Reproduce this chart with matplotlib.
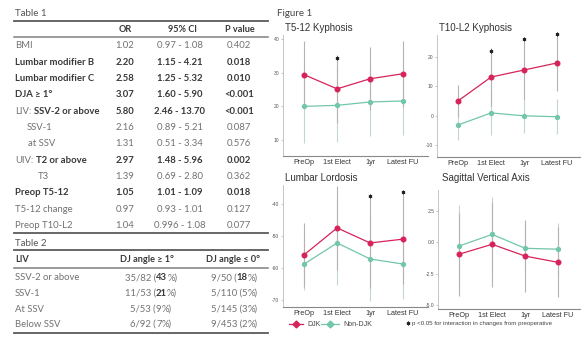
#Recreating Table 1, Table 2 and Figure 1 (DJK vs Non-DJK).
import numpy as np
import matplotlib
matplotlib.use("Agg")
import matplotlib.pyplot as plt
from matplotlib.lines import Line2D

W, H = 587, 337
TFONT = ["Lato", "DejaVu Sans"]
CFONT = ["Liberation Sans", "DejaVu Sans"]

#Table 1 data.
t1_prefix = ["", "", "", "", "LIV:", "", "", "UIV:", "", "", "", ""]
t1_names = ["BMI", "Lumbar modifier B", "Lumbar modifier C", "DJA \u2265 1\u00b0", "SSV-2 or above",
            "SSV-1", "at SSV", "T2 or above", "T3", "Preop T5-12", "T5-12 change", "Preop T10-L2"]
t1_or = ["1.02", "2.20", "2.58", "3.07", "5.80", "2.16", "1.31", "2.97", "1.39", "1.05", "0.97", "1.04"]
t1_ci = ["0.97 - 1.08", "1.15 - 4.21", "1.25 - 5.32", "1.60 - 5.90", "2.46 - 13.70", "0.89 - 5.21",
         "0.51 - 3.34", "1.48 - 5.96", "0.69 - 2.80", "1.01 - 1.09", "0.93 - 1.01", "0.996 - 1.08"]
t1_p = ["0.402", "0.018", "0.010", "<0.001", "<0.001", "0.087", "0.576", "0.002", "0.362",
        "0.018", "0.127", "0.077"]
t1_bold = [False, True, True, True, True, False, False, True, False, True, False, False]
t1_indent = [0, 0, 0, 0, 0, 12, 13, 0, 23, 0, 0, 0]

#Table 2 data.
t2_rows = ["SSV-2 or above", "SSV-1", "At SSV", "Below SSV"]
t2_pos_n = ["35/82", "11/53", "5/53", "6/92"]
t2_pos_pct = [43, 21, 9, 7]
t2_pos_bold = [True, True, False, False]
t2_neg_n = ["9/50", "5/110", "5/145", "9/453"]
t2_neg_pct = [18, 5, 3, 2]
t2_neg_bold = [True, False, False, False]

#Figure 1 data.
timepoints = ["PreOp", "1st Elect", "1yr", "Latest FU"]
t512_djk = [29.4, 25.2, 28.2, 29.7]
t512_djk_sd = [10, 10, 9.3, 9.8]
t512_non = [20.0, 20.3, 21.3, 21.6]
t512_non_sd = [11, 11, 10, 10]
t512_sig = [np.nan, 34.5, np.nan, np.nan]

t10l2_djk = [5.1, 13.2, 15.6, 18.0]
t10l2_djk_sd = [5.5, 10, 10, 9.5]
t10l2_non = [-3.1, 1.0, 0.0, -0.3]
t10l2_non_sd = [5, 7.5, 6, 6]
t10l2_sig = [np.nan, 22.0, 26.0, 28.0]

ll_djk = [-55.9, -47.5, -52.2, -51.0]
ll_djk_sd = [10, 13, 14, 14]
ll_non = [-58.8, -52.2, -57.2, -58.8]
ll_non_sd = [8, 13, 13, 11]
ll_sig = [np.nan, np.nan, -37.5, -36.3]

sva_djk = [-0.95, -0.16, -1.1, -1.6]
sva_djk_sd = [3.3, 3.4, 2.9, 2.8]
sva_non = [-0.3, 0.63, -0.48, -0.55]
sva_non_sd = [3.3, 3.0, 1.8, 2.1]
sva_sig = [np.nan, np.nan, np.nan, np.nan]

RED = "#d6245a"
GREEN = "#72c6ab"

fig = plt.figure(figsize=(W / 100, H / 100), dpi=100)
renderer = fig.canvas.get_renderer()

#Pixel coords to figure fraction.
def px(x, y):
    return x / W, 1 - y / H

#Function for writing text made of normal and bold parts.
def seg_text(x, y, parts, ha="left", size=7, gap=0):
    arts, widths = [], []
    for s, b in parts:
        t = fig.text(0, 0, s, fontsize=size, family=TFONT, va="center", ha="left",
                     fontweight="bold" if b else "normal", color="#383838" if b else "#727272")
        arts.append(t)
        widths.append(t.get_window_extent(renderer).width)
    total = sum(widths) + gap * (len(parts) - 1)
    x0 = x - total / 2 if ha == "center" else x
    for t, w in zip(arts, widths):
        t.set_position(px(x0, y))
        x0 += w + gap

def hline(y, x0=14, x1=268, lw=1.3, color="#5a5a5a"):
    fig.add_artist(Line2D([x0 / W, x1 / W], [1 - y / H, 1 - y / H], lw=lw, color=color))

#Table 1.
fig.text(*px(15, 13), "Table 1", fontsize=7, family=TFONT, color="#555555", va="center")
hline(21)
for x, s in zip([125, 182, 240], ["OR", "95% CI", "P value"]):
    seg_text(x, 30, [(s, True)], ha="center", size=6.6)
hline(37, lw=1.1, color="#808080")
row_y = 46 + 16.3 * np.arange(len(t1_names))
for i, y in enumerate(row_y):
    b = t1_bold[i]
    if t1_prefix[i]:
        seg_text(15, y, [(t1_prefix[i], False), (t1_names[i], b)], size=6.8, gap=2.5)
    else:
        seg_text(15 + t1_indent[i], y, [(t1_names[i], b)], size=6.8)
    seg_text(125, y, [(t1_or[i], b)], ha="center", size=6.8)
    seg_text(180, y, [(t1_ci[i], b)], ha="center", size=6.8)
    seg_text(239, y, [(t1_p[i], b)], ha="center", size=6.8)
hline(233)

#Table 2.
fig.text(*px(15, 243), "Table 2", fontsize=7, family=TFONT, color="#555555", va="center")
hline(250)
seg_text(15, 260, [("LIV", True)], size=6.6)
seg_text(147, 260, [("DJ angle \u2265 1\u00b0", True)], ha="center", size=6.6)
seg_text(233, 260, [("DJ angle \u2264 0\u00b0", True)], ha="center", size=6.6)
hline(268, lw=1.1, color="#808080")
row2_y = 278 + 15.5 * np.arange(len(t2_rows))
for i, y in enumerate(row2_y):
    seg_text(15, y, [(t2_rows[i], False)], size=6.8)
    seg_text(151, y, [(t2_pos_n[i] + " (", False), (str(t2_pos_pct[i]), t2_pos_bold[i]), ("%)", False)],
             ha="center", size=6.8)
    seg_text(234, y, [(t2_neg_n[i] + " (", False), (str(t2_neg_pct[i]), t2_neg_bold[i]), ("%)", False)],
             ha="center", size=6.8)
hline(333)

#Figure 1.
fig.text(*px(277, 13), "Figure 1", fontsize=7, family=TFONT, color="#444444", va="center")

def panel(rect, ylim, yticks, ylabels, title, tpos, djk, djk_sd, non, non_sd, sig):
    l, t, r, b = rect
    ax = fig.add_axes([l / W, 1 - b / H, (r - l) / W, (b - t) / H])
    x = np.arange(len(timepoints))
    ax.errorbar(x, non, yerr=non_sd, fmt="none", ecolor="#c4d6cf", elinewidth=0.8, zorder=1)
    ax.errorbar(x, djk, yerr=djk_sd, fmt="none", ecolor="#b9b0b3", elinewidth=0.8, zorder=1)
    ax.plot(x, non, "-o", color=GREEN, lw=0.9, ms=2.8, zorder=3)
    ax.plot(x, djk, "-o", color=RED, lw=0.9, ms=3.3, zorder=4)
    ax.plot(x, sig, ls="none", marker=(6, 2, 0), ms=2.6, mew=0.7, color="#222222", clip_on=False)
    ax.set_xlim(-0.64, (r - l) / 33 - 0.64)
    ax.set_ylim(*ylim)
    ax.set_xticks(x)
    ax.set_xticklabels(timepoints, fontsize=5.2, family=CFONT, color="#333333")
    ax.set_yticks(yticks)
    ax.set_yticklabels(ylabels, fontsize=3.6, family=CFONT, color="#555555")
    ax.tick_params(axis="x", length=0, pad=2)
    ax.tick_params(axis="y", length=1.5, width=0.4, color="#999999", pad=1)
    for s in ["top", "right"]:
        ax.spines[s].set_visible(False)
    ax.spines["left"].set_color("#bbbbbb")
    ax.spines["left"].set_linewidth(0.6)
    ax.spines["bottom"].set_color("#888888")
    ax.spines["bottom"].set_linewidth(0.8)
    ax.set_facecolor("none")
    fig.text(*px(*tpos), title, fontsize=7, family=CFONT, color="#333333", va="center")
    return ax

panel((283, 35, 428, 156), (5.25, 41.2), [10, 20, 30, 40], ["10", "20", "30", "40"],
      "T5-12 Kyphosis", (285, 28), t512_djk, t512_djk_sd, t512_non, t512_non_sd, t512_sig)
panel((437, 35, 580, 157), (-14.0, 27.5), [-10, 0, 10, 20], ["-10", "0", "10", "20"],
      "T10-L2 Kyphosis", (439, 28), t10l2_djk, t10l2_djk_sd, t10l2_non, t10l2_non_sd, t10l2_sig)
panel((283, 185, 428, 307), (-72.2, -34.1), [-70, -60, -50, -40], ["-70", "-60", "-50", "-40"],
      "Lumbar Lordosis", (285, 178), ll_djk, ll_djk_sd, ll_non, ll_non_sd, ll_sig)
panel((438, 190, 580, 309), (-5.32, 4.17), [-5, -2.5, 0, 2.5], ["-5.0", "-2.5", "0.0", "2.5"],
      "Sagittal Vertical Axis", (442, 178), sva_djk, sva_djk_sd, sva_non, sva_non_sd, sva_sig)

#Legend.
ly = 1 - 324 / H
fig.add_artist(Line2D([289 / W, 303 / W], [ly, ly], color=RED, lw=0.9))
fig.add_artist(Line2D([296 / W], [ly], color=RED, marker="D", ms=3.5, ls="none"))
fig.text(307 / W, ly, "DJK", fontsize=5, family=CFONT, color="#444444", va="center")
fig.add_artist(Line2D([321 / W, 339 / W], [ly, ly], color=GREEN, lw=0.9))
fig.add_artist(Line2D([330 / W], [ly], color=GREEN, marker="D", ms=3.5, ls="none"))
fig.text(343 / W, ly, "Non-DJK", fontsize=5, family=CFONT, color="#444444", va="center")
fig.add_artist(Line2D([408 / W], [ly + 0.004], color="#222222", marker=(6, 2, 0), ms=2.6, mew=0.7, ls="none"))
fig.text(412 / W, ly, "p <0.05 for interaction in changes from preoperative", fontsize=4.4,
         family=CFONT, color="#444444", va="center")

fig.savefig("out.png", dpi=100)
